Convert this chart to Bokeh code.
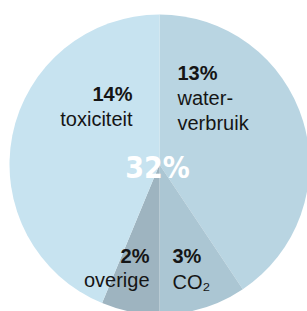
import math
from bokeh.plotting import figure
from bokeh.models import ColumnDataSource, Range1d
from bokeh.core.properties import value
from bokeh.embed import file_html
from bokeh.resources import INLINE

# ---- data ----
categories = ["waterverbruik", "CO2", "overige", "toxiciteit"]
shares = [13, 3, 2, 14]
pct_labels = ["13%", "3%", "2%", "14%"]
name_labels = [["water-", "verbruik"], ["CO₂"], ["overige"], ["toxiciteit"]]
total_label = "32%"

# ---- style / layout ----
colors = ["#b9d5e2", "#abc6d3", "#9eb4c0", "#c7e3f0"]
W, H = 307, 311
cx, cy, R = 159, 147, 150
# label anchors (x, pct baseline y, first name baseline y, align)
anchors = [
    (177, 239, 214, "left"),
    (172, 56, 30, "left"),
    (149, 56, 32, "right"),
    (132, 218, 193, "right"),
]
line_step = 25

total = sum(shares)
starts, ends = [], []
acc = 0.0
for s in shares:
    starts.append(math.pi / 2 - 2 * math.pi * acc / total)
    acc += s
    ends.append(math.pi / 2 - 2 * math.pi * acc / total)

p = figure(width=W, height=H, output_backend="svg", toolbar_location=None,
           x_range=Range1d(0, W), y_range=Range1d(0, H), min_border=0)
p.axis.visible = False
p.grid.visible = False
p.outline_line_color = None
p.background_fill_color = "white"
p.border_fill_color = "white"

src = ColumnDataSource(dict(cat=categories, start=starts, end=ends, color=colors))
p.wedge(x=cx, y=cy, radius=R, start_angle="start", end_angle="end",
        direction="clock", fill_color="color", line_color=None, source=src)

font = value("Liberation Sans")
for (ax, py, ny, al), pl, names in zip(anchors, pct_labels, name_labels):
    p.text(x=[ax], y=[py], text=[pl], text_font=font, text_font_size="20px",
           text_font_style="bold", text_color="#151515", text_align=al,
           text_baseline="alphabetic")
    for i, nm in enumerate(names):
        p.text(x=[ax], y=[ny - i * line_step], text=[nm], text_font=font,
               text_font_size="20px", text_color="#151515", text_align=al,
               text_baseline="alphabetic")

p.text(x=[157], y=[144], text=[total_label],
       text_font=value("DejaVu Sans Condensed, Roboto, sans-serif"),
       text_font_size="30px",
       text_font_style="bold", text_color="white", text_align="center",
       text_baseline="alphabetic")

open("out.html", "w").write(file_html(p, INLINE))
